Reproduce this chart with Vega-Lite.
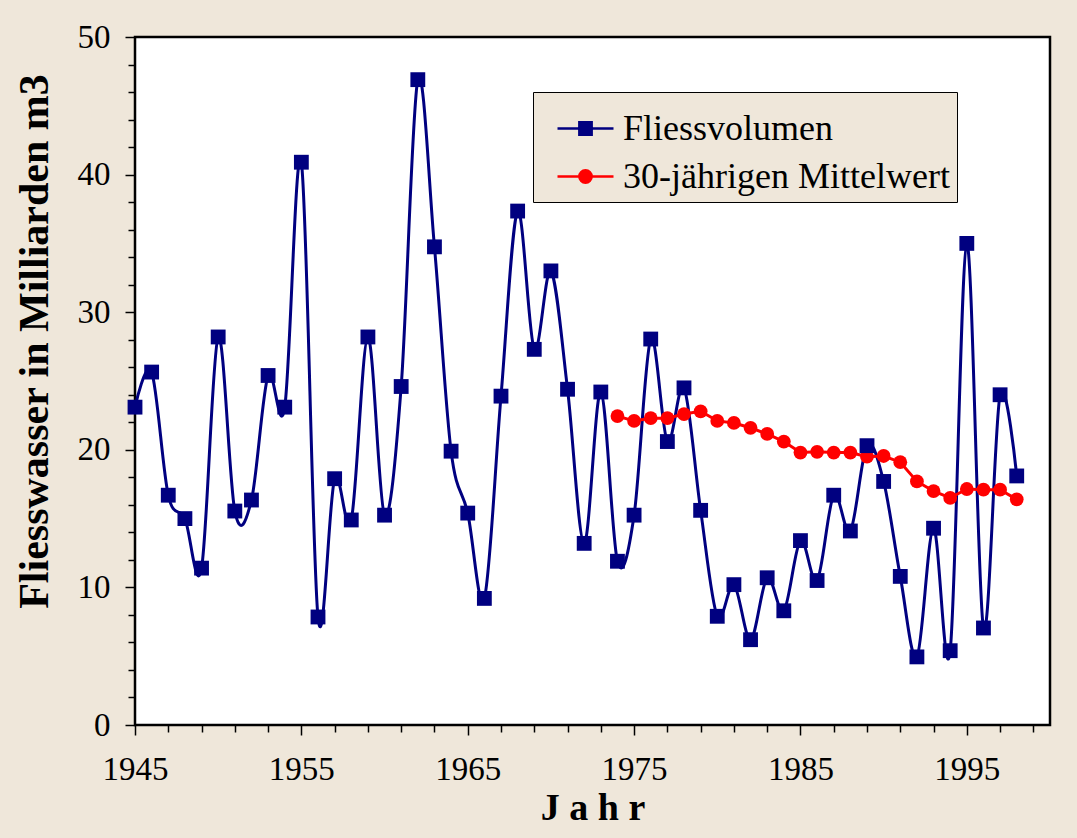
{
  "$schema": "https://vega.github.io/schema/vega-lite/v6.json",
  "width": 915,
  "height": 688,
  "autosize": {"type": "none"},
  "padding": {"left": 135, "top": 37, "right": 27, "bottom": 113},
  "background": "#EFE7DA",
  "config": {
    "view": {"stroke": "#000000", "strokeWidth": 2.5, "fill": "#FFFFFF"},
    "font": "Liberation Serif",
    "legend": {
      "orient": "none", "legendX": 398, "legendY": 55,
      "fillColor": "#EFE7DA", "strokeColor": "#000000",
      "padding": 7,
      "labelFont": "Liberation Serif", "labelFontSize": 36, "labelColor": "#000000",
      "labelLimit": 600,
      "symbolSize": 3136, "symbolStrokeWidth": 2.5, "symbolOffset": 16, "symbolOpacity": 1,
      "rowPadding": 0, "labelOffset": 8
    }
  },
  "datasets": {
    "flow": [
      {"Jahr": 1945, "Wert": 23.1}, {"Jahr": 1946, "Wert": 25.65}, {"Jahr": 1947, "Wert": 16.7},
      {"Jahr": 1948, "Wert": 15.0}, {"Jahr": 1949, "Wert": 11.4}, {"Jahr": 1950, "Wert": 28.2},
      {"Jahr": 1951, "Wert": 15.55}, {"Jahr": 1952, "Wert": 16.35}, {"Jahr": 1953, "Wert": 25.4},
      {"Jahr": 1954, "Wert": 23.1}, {"Jahr": 1955, "Wert": 40.9}, {"Jahr": 1956, "Wert": 7.85},
      {"Jahr": 1957, "Wert": 17.9}, {"Jahr": 1958, "Wert": 14.9}, {"Jahr": 1959, "Wert": 28.2},
      {"Jahr": 1960, "Wert": 15.25}, {"Jahr": 1961, "Wert": 24.6}, {"Jahr": 1962, "Wert": 46.9},
      {"Jahr": 1963, "Wert": 34.75}, {"Jahr": 1964, "Wert": 19.9}, {"Jahr": 1965, "Wert": 15.4},
      {"Jahr": 1966, "Wert": 9.2}, {"Jahr": 1967, "Wert": 23.9}, {"Jahr": 1968, "Wert": 37.35},
      {"Jahr": 1969, "Wert": 27.3}, {"Jahr": 1970, "Wert": 33.0}, {"Jahr": 1971, "Wert": 24.4},
      {"Jahr": 1972, "Wert": 13.2}, {"Jahr": 1973, "Wert": 24.2}, {"Jahr": 1974, "Wert": 11.9},
      {"Jahr": 1975, "Wert": 15.25}, {"Jahr": 1976, "Wert": 28.05}, {"Jahr": 1977, "Wert": 20.6},
      {"Jahr": 1978, "Wert": 24.5}, {"Jahr": 1979, "Wert": 15.6}, {"Jahr": 1980, "Wert": 7.9},
      {"Jahr": 1981, "Wert": 10.2}, {"Jahr": 1982, "Wert": 6.2}, {"Jahr": 1983, "Wert": 10.7},
      {"Jahr": 1984, "Wert": 8.3}, {"Jahr": 1985, "Wert": 13.4}, {"Jahr": 1986, "Wert": 10.5},
      {"Jahr": 1987, "Wert": 16.7}, {"Jahr": 1988, "Wert": 14.1}, {"Jahr": 1989, "Wert": 20.3},
      {"Jahr": 1990, "Wert": 17.7}, {"Jahr": 1991, "Wert": 10.8}, {"Jahr": 1992, "Wert": 4.95},
      {"Jahr": 1993, "Wert": 14.3}, {"Jahr": 1994, "Wert": 5.4}, {"Jahr": 1995, "Wert": 35.0},
      {"Jahr": 1996, "Wert": 7.05}, {"Jahr": 1997, "Wert": 24.0}, {"Jahr": 1998, "Wert": 18.1}
    ],
    "mean": [
      {"Jahr": 1974, "Wert": 22.45}, {"Jahr": 1975, "Wert": 22.1}, {"Jahr": 1976, "Wert": 22.3},
      {"Jahr": 1977, "Wert": 22.3}, {"Jahr": 1978, "Wert": 22.6}, {"Jahr": 1979, "Wert": 22.8},
      {"Jahr": 1980, "Wert": 22.1}, {"Jahr": 1981, "Wert": 21.95}, {"Jahr": 1982, "Wert": 21.6},
      {"Jahr": 1983, "Wert": 21.15}, {"Jahr": 1984, "Wert": 20.6}, {"Jahr": 1985, "Wert": 19.8},
      {"Jahr": 1986, "Wert": 19.85}, {"Jahr": 1987, "Wert": 19.8}, {"Jahr": 1988, "Wert": 19.8},
      {"Jahr": 1989, "Wert": 19.5}, {"Jahr": 1990, "Wert": 19.55}, {"Jahr": 1991, "Wert": 19.1},
      {"Jahr": 1992, "Wert": 17.7}, {"Jahr": 1993, "Wert": 17.0}, {"Jahr": 1994, "Wert": 16.5},
      {"Jahr": 1995, "Wert": 17.15}, {"Jahr": 1996, "Wert": 17.1}, {"Jahr": 1997, "Wert": 17.1},
      {"Jahr": 1998, "Wert": 16.4}
    ],
    "series": [
      {"Reihe": "Fliessvolumen", "Jahr": 1945, "Wert": 23.1},
      {"Reihe": "30-jährigen Mittelwert", "Jahr": 1974, "Wert": 22.45}
    ]
  },
  "encoding": {
    "x": {
      "field": "Jahr", "type": "quantitative",
      "scale": {"domain": [1945, 2000], "nice": false, "zero": false},
      "axis": {
        "title": "J a h r",
        "titleFont": "Liberation Serif", "titleFontSize": 38, "titleFontWeight": "bold", "titleColor": "#000000",
        "titlePadding": 3,
        "values": [1945,1947,1949,1951,1953,1955,1957,1959,1961,1963,1965,1967,1969,1971,1973,1975,1977,1979,1981,1983,1985,1987,1989,1991,1993,1995,1997,1999],
        "labelExpr": "(datum.value - 1945) % 10 === 0 ? datum.label : ''",
        "format": "d",
        "labelFont": "Liberation Serif", "labelFontSize": 33, "labelColor": "#000000",
        "labelPadding": 18, "labelFlush": false, "labelOverlap": false,
        "domain": false, "grid": false,
        "tickColor": "#000000", "tickWidth": 1.5,
        "tickSize": {"condition": {"test": "(datum.value - 1945) % 10 === 0", "value": 10}, "value": 7}
      }
    },
    "y": {
      "field": "Wert", "type": "quantitative",
      "scale": {"domain": [0, 50], "nice": false},
      "axis": {
        "title": "Fliesswasser in Milliarden m3",
        "titleFont": "Liberation Serif", "titleFontSize": 42, "titleFontWeight": "bold", "titleColor": "#000000",
        "titleX": -79, "titleY": 304,
        "values": [0,2,4,6,8,10,12,14,16,18,20,22,24,26,28,30,32,34,36,38,40,42,44,46,48,50],
        "labelExpr": "datum.value % 10 === 0 ? datum.label : ''",
        "labelFont": "Liberation Serif", "labelFontSize": 33, "labelColor": "#000000",
        "labelPadding": 15, "labelFlush": false, "labelOverlap": false,
        "domain": false, "grid": false,
        "tickColor": "#000000", "tickWidth": 1.5,
        "tickSize": {"condition": {"test": "datum.value % 10 === 0", "value": 10}, "value": 7}
      }
    }
  },
  "layer": [
    {
      "data": {"name": "flow"},
      "mark": {"type": "line", "interpolate": "cardinal", "color": "#000080", "strokeWidth": 3},
      "encoding": {}
    },
    {
      "data": {"name": "mean"},
      "mark": {"type": "line", "color": "#FF0000", "strokeWidth": 3},
      "encoding": {}
    },
    {
      "data": {"name": "mean"},
      "mark": {"type": "point", "shape": "circle", "filled": true, "size": 190, "opacity": 1, "color": "#FF0000"}
    },
    {
      "data": {"name": "flow"},
      "mark": {"type": "point", "shape": "square", "filled": true, "size": 220, "opacity": 1, "color": "#000080"}
    },
    {
      "data": {"name": "series"},
      "mark": {"type": "point", "filled": false, "opacity": 0, "size": 10},
      "encoding": {
        "color": {
          "field": "Reihe", "type": "nominal",
          "scale": {"domain": ["Fliessvolumen", "30-jährigen Mittelwert"], "range": ["#000080", "#FF0000"]},
          "legend": {"title": null}
        },
        "fill": {
          "field": "Reihe", "type": "nominal",
          "scale": {"domain": ["Fliessvolumen", "30-jährigen Mittelwert"], "range": ["#000080", "#FF0000"]},
          "legend": {"title": null}
        },
        "shape": {
          "field": "Reihe", "type": "nominal",
          "scale": {
            "domain": ["Fliessvolumen", "30-jährigen Mittelwert"],
            "range": ["M-1,0H-0.22M0.22,0H1M-0.22,-0.22H0.22V0.22H-0.22Z", "M-1,0H-0.22M0.22,0H1M-0.22,0A0.22,0.22 0 1,0 0.22,0A0.22,0.22 0 1,0 -0.22,0Z"]
          },
          "legend": {"title": null}
        }
      }
    }
  ]
}
